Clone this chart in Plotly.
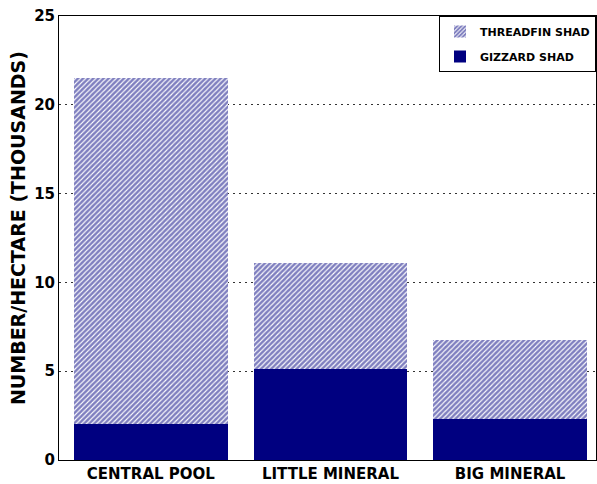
import plotly.graph_objects as go

lakes = ["CENTRAL POOL", "LITTLE MINERAL", "BIG MINERAL"]
gizzard = [2.0, 5.1, 2.3]
total = [21.5, 11.1, 6.75]
threadfin = [t - g for t, g in zip(total, gizzard)]
y_ticks = [0, 5, 10, 15, 20, 25]

navy = "#000080"
font_family = "DejaVu Sans, Verdana, sans-serif"

fig = go.Figure()
fig.add_trace(go.Bar(
    x=lakes, y=gizzard, name="GIZZARD SHAD", legendgroup="gizzard",
    legendrank=2,
    marker=dict(color=navy, line=dict(width=0)),
    width=0.856,
))
fig.add_trace(go.Bar(
    x=lakes, y=threadfin, name="THREADFIN SHAD", legendgroup="threadfin",
    legendrank=1,
    marker=dict(color="white", line=dict(width=0),
                pattern=dict(shape="/", fgcolor=navy, bgcolor="white",
                             size=3.6, solidity=0.7)),
    width=0.856,
))

fig.update_layout(
    barmode="stack",
    width=597, height=484,
    margin=dict(l=59, r=1, t=16, b=24),
    paper_bgcolor="white", plot_bgcolor="white",
    font=dict(family=font_family, color="black", weight="bold"),
    showlegend=True,
    legend=dict(
        x=1, y=1, xanchor="right", yanchor="top",
        traceorder="grouped",
        bgcolor="white", bordercolor="black", borderwidth=1,
        font=dict(size=11, family=font_family, weight="bold"),
        itemwidth=30, tracegroupgap=6,
    ),
    xaxis=dict(
        range=[-0.511, 2.478],
        showline=True, linecolor="black", linewidth=1, mirror=True,
        ticks="", tickfont=dict(size=15, weight="bold"),
        showgrid=False,
    ),
    yaxis=dict(
        range=[0, 25], tickvals=y_ticks,
        showline=True, linecolor="black", linewidth=1, mirror=True,
        showgrid=True, gridcolor="#333333", griddash="2px,4px", gridwidth=1,
        ticks="", tickfont=dict(size=15, weight="bold"),
        zeroline=False,
    ),
    annotations=[dict(
        text="NUMBER/HECTARE (THOUSANDS)", textangle=-90,
        xref="paper", yref="paper", x=-0.0762, y=0.5225,
        xanchor="center", yanchor="middle", showarrow=False,
        font=dict(size=19, family=font_family, weight="bold"),
    )],
)

fig.write_html("out.html")
